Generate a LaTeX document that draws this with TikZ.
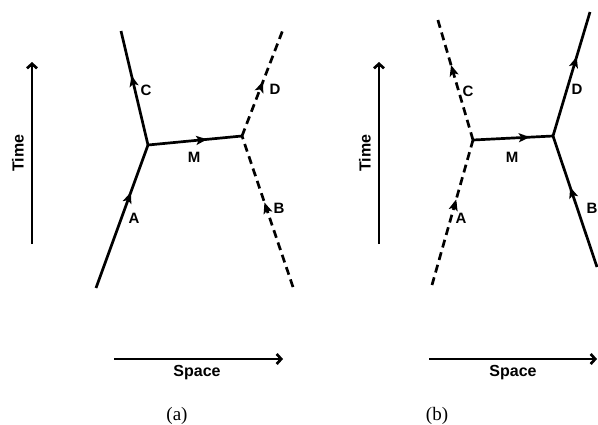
\documentclass[tikz,border=0pt]{standalone}
\usepackage{fontspec}
\setmainfont{Liberation Serif}
\setsansfont{Liberation Sans}
\usetikzlibrary{arrows.meta,decorations.markings}
\tikzset{
  wl/.style={line width=2.7pt, line cap=butt},
  dl/.style={wl, dash pattern=on 8pt off 5pt},
  midarrow/.style={postaction={decorate}, decoration={markings, mark=at position #1 with {\arrow{Stealth[length=11pt,width=9pt,inset=2.5pt]}}}},
  lbl/.style={font=\sffamily\bfseries\fontsize{15}{17}\selectfont, inner sep=0pt},
  axlbl/.style={font=\sffamily\bfseries\fontsize{16}{18}\selectfont, inner sep=0pt},
  axis/.style={line width=2.7pt, -{Straight Barb[length=4.5pt,width=10pt]}},
  capt/.style={font=\fontsize{19}{21}\selectfont, inner sep=0pt}
}
\begin{document}
\begin{tikzpicture}[x=1pt,y=-1pt]
\useasboundingbox (0,0) rectangle (598,424);
% ---------- panel (a)
\coordinate (aA) at (96,288);
\coordinate (aV1) at (148,145);
\coordinate (aC) at (121,31);
\coordinate (aV2) at (242,136);
\coordinate (aD) at (284,27);
\coordinate (aB) at (293,287);
\draw[wl, midarrow=0.67] (aA) -- (aV1);
\draw[wl, midarrow=0.61] (aV1) -- (aC);
\draw[wl, midarrow=0.63] (aV1) -- (aV2);
\draw[dl, midarrow=0.5] (aV2) -- (aD);
\draw[dl, midarrow=0.56] (aB) -- (aV2);
\node[lbl] (laA) at (134,218) {A};
\node[lbl] (laC) at (146,90) {C};
\node[lbl] (laM) at (194,157) {M};
\node[lbl] (laD) at (275,89) {D};
\node[lbl] (laB) at (279,208) {B};
\coordinate (aT0) at (32,244);
\coordinate (aT1) at (32,62);
\draw[axis] (aT0) -- (aT1);
\node[axlbl, rotate=90] (aTime) at (18,153) {Time};
\coordinate (aS0) at (114,359);
\coordinate (aS1) at (283,359);
\draw[axis] (aS0) -- (aS1);
\node[axlbl] (aSpace) at (197,373) {Space};
\node[capt] (capa) at (177,416) {(a)};
% ---------- panel (b)
\coordinate (bA) at (432,285);
\coordinate (bV1) at (473,140);
\coordinate (bC) at (437,17);
\coordinate (bV2) at (553,136);
\coordinate (bD) at (590,12);
\coordinate (bB) at (597,267);
\draw[dl, midarrow=0.59] (bA) -- (bV1);
\draw[dl, midarrow=0.61] (bV1) -- (bC);
\draw[wl, midarrow=0.71] (bV1) -- (bV2);
\draw[wl, midarrow=0.64] (bV2) -- (bD);
\draw[wl, midarrow=0.61] (bB) -- (bV2);
\node[lbl] (lbA) at (461,218) {A};
\node[lbl] (lbC) at (468,91) {C};
\node[lbl] (lbM) at (512,157) {M};
\node[lbl] (lbD) at (577,89) {D};
\node[lbl] (lbB) at (592,208) {B};
\coordinate (bT0) at (379,244);
\coordinate (bT1) at (379,62);
\draw[axis] (bT0) -- (bT1);
\node[axlbl, rotate=90] (bTime) at (365,153) {Time};
\coordinate (bS0) at (429,359);
\coordinate (bS1) at (597,359);
\draw[axis] (bS0) -- (bS1);
\node[axlbl] (bSpace) at (513,373) {Space};
\node[capt] (capb) at (437,416) {(b)};
\end{tikzpicture}
\end{document}
